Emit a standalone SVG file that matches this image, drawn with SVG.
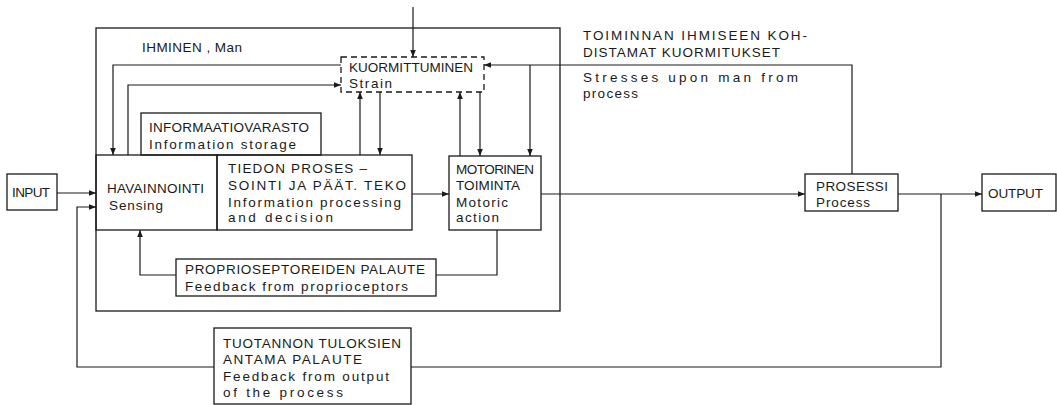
<svg xmlns="http://www.w3.org/2000/svg" width="1057" height="405" viewBox="0 0 1057 405">
<defs>
<marker id="ah" viewBox="0 0 10 8" refX="10" refY="4" markerWidth="7" markerHeight="5.6" markerUnits="userSpaceOnUse" orient="auto">
<path d="M0,0 L10,4 L0,8 Z" fill="#1a1a1a"/>
</marker>
<style>
.box{fill:none;stroke:#1a1a1a;stroke-width:1.3}
.dash{fill:none;stroke:#1a1a1a;stroke-width:1.3;stroke-dasharray:6 4}
.ln{fill:none;stroke:#1a1a1a;stroke-width:1.2}
.ar{fill:none;stroke:#1a1a1a;stroke-width:1.2;marker-end:url(#ah)}
text{font-family:"Liberation Sans",Arial,sans-serif;font-size:13.5px;fill:#1a1a1a}
</style>
</defs>
<rect width="1057" height="405" fill="#ffffff"/>

<g id="ihminen">
<rect class="box" x="96" y="28" width="464" height="283"/>
<text x="142" y="52" textLength="100" lengthAdjust="spacing">IHMINEN , Man</text>
</g>

<g id="kuormittuminen">
<rect class="dash" x="341" y="57" width="143" height="35"/>
<text x="349" y="72" textLength="124" lengthAdjust="spacing">KUORMITTUMINEN</text>
<text x="349" y="88" textLength="43" lengthAdjust="spacing">Strain</text>
</g>

<g id="informaatiovarasto">
<rect class="box" x="141" y="113" width="180" height="42"/>
<text x="149" y="132" textLength="160" lengthAdjust="spacing">INFORMAATIOVARASTO</text>
<text x="149" y="149" textLength="147" lengthAdjust="spacing">Information storage</text>
</g>

<g id="havainnointi">
<rect class="box" x="96" y="155" width="121" height="75"/>
<text x="107" y="193" textLength="97" lengthAdjust="spacing">HAVAINNOINTI</text>
<text x="109" y="210" textLength="54" lengthAdjust="spacing">Sensing</text>
</g>

<g id="tiedon">
<rect class="box" x="217" y="155" width="195" height="75"/>
<text x="228" y="173" textLength="139" lengthAdjust="spacing">TIEDON PROSES –</text>
<text x="228" y="190" textLength="178" lengthAdjust="spacing">SOINTI JA PÄÄT. TEKO</text>
<text x="228" y="207" textLength="173" lengthAdjust="spacing">Information processing</text>
<text x="228" y="222" textLength="105" lengthAdjust="spacing">and decision</text>
</g>

<g id="motorinen">
<rect class="box" x="449" y="156" width="92" height="74"/>
<text x="456" y="174" textLength="78" lengthAdjust="spacing">MOTORINEN</text>
<text x="456" y="190" textLength="64" lengthAdjust="spacing">TOIMINTA</text>
<text x="456" y="207" textLength="52" lengthAdjust="spacing">Motoric</text>
<text x="456" y="222" textLength="43" lengthAdjust="spacing">action</text>
</g>

<g id="proprio">
<rect class="box" x="176" y="259" width="260" height="37"/>
<text x="185" y="274" textLength="240" lengthAdjust="spacing">PROPRIOSEPTOREIDEN PALAUTE</text>
<text x="185" y="291" textLength="223" lengthAdjust="spacing">Feedback from proprioceptors</text>
</g>

<g id="input">
<rect class="box" x="7" y="174" width="50" height="36"/>
<text x="12" y="197" textLength="38" lengthAdjust="spacing">INPUT</text>
</g>

<g id="prosessi">
<rect class="box" x="805" y="174" width="93" height="37"/>
<text x="816" y="191" textLength="72" lengthAdjust="spacing">PROSESSI</text>
<text x="816" y="207" textLength="54" lengthAdjust="spacing">Process</text>
</g>

<g id="output">
<rect class="box" x="982" y="174" width="74" height="37"/>
<text x="988" y="198" textLength="55" lengthAdjust="spacing">OUTPUT</text>
</g>

<g id="tuotannon">
<rect class="box" x="214" y="328" width="197" height="76"/>
<text x="223" y="348" textLength="178" lengthAdjust="spacing">TUOTANNON TULOKSIEN</text>
<text x="223" y="364" textLength="139" lengthAdjust="spacing">ANTAMA PALAUTE</text>
<text x="223" y="381" textLength="166" lengthAdjust="spacing">Feedback from output</text>
<text x="223" y="397" textLength="120" lengthAdjust="spacing">of the process</text>
</g>

<g id="connectors">
<path class="ar" d="M413,7 V57"/>
<path class="ar" d="M341,65 H113 V155"/>
<path class="ar" d="M128,155 V85 H341"/>
<path class="ar" d="M360,155 V92"/>
<path class="ar" d="M380,92 V155"/>
<path class="ar" d="M460,156 V92"/>
<path class="ar" d="M480,92 V156"/>
<path class="ar" d="M852,174 V65 H484"/>
<path class="ar" d="M530,65 V156"/>
<path class="ar" d="M57,193 H96"/>
<path class="ar" d="M412,194 H449"/>
<path class="ar" d="M541,194 H805"/>
<path class="ar" d="M898,194 H982"/>
<path class="ln" d="M941,194 V367 H411"/>
<path class="ar" d="M214,367 H77 V207 H96"/>
<path class="ln" d="M497,230 V275 H436"/>
<path class="ar" d="M176,275 H140 V230"/>
<g id="stress-label">
<text x="583" y="40" textLength="224" lengthAdjust="spacing">TOIMINNAN IHMISEEN KOH-</text>
<text x="583" y="57" textLength="197" lengthAdjust="spacing">DISTAMAT KUORMITUKSET</text>
<text x="583" y="82" textLength="215" lengthAdjust="spacing">Stresses upon man from</text>
<text x="583" y="98" textLength="55" lengthAdjust="spacing">process</text>
</g>
</g>
</svg>
